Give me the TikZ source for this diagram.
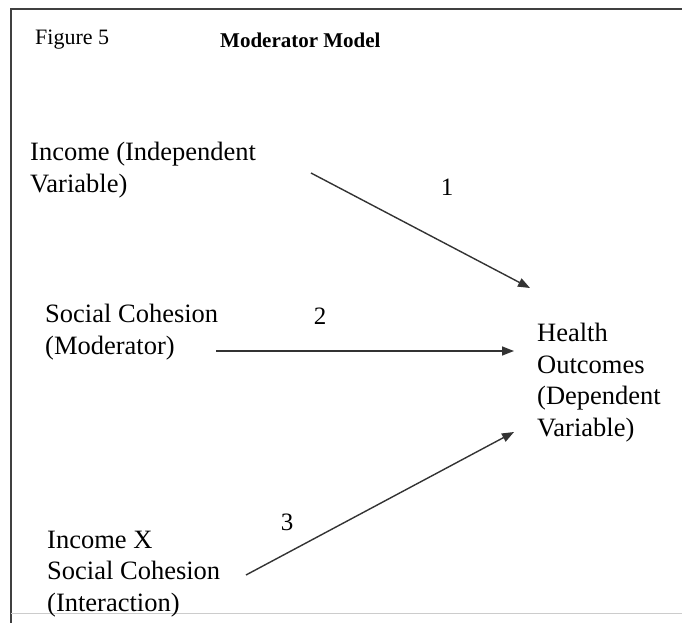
\documentclass[tikz,border=0pt]{standalone}
\usepackage{fontspec}
\setmainfont{Liberation Serif}
\usepackage{tikz}
\usetikzlibrary{arrows.meta}

\begin{document}
\begin{tikzpicture}[x=1pt,y=-1pt,>={Triangle[length=12pt,width=9pt]},
  txt/.style={anchor=base west,align=left,inner sep=0pt,
    font=\fontsize{26.5}{31.5}\selectfont},
  num/.style={inner sep=0pt,font=\fontsize{25}{28}\selectfont},
  link/.style={->,line width=1.4pt,draw=black!80}]
\useasboundingbox (0,0) rectangle (682,623);
% frame
\draw[line width=2pt,black!75] (11,623) -- (11,9) -- (682,9);
\draw[line width=1pt,black!20] (11,613) -- (682,613);
% title line
\node[anchor=base west,inner sep=0pt,font=\fontsize{22}{24}\selectfont] (fig) at (35,45) {Figure 5};
\node[anchor=base west,inner sep=0pt,font=\fontsize{21}{24}\selectfont\bfseries] (title) at (220,48) {Moderator Model};
% variables (base = last line)
\node[txt] (income) at (30,192) {Income (Independent\\Variable)};
\node[txt] (moder) at (45,354) {Social Cohesion\\(Moderator)};
\node[txt] (inter) at (47,611) {Income X\\Social Cohesion\\(Interaction)};
\node[txt] (health) at (537,436) {Health\\Outcomes\\(Dependent\\Variable)};
% arrow ends
\coordinate (s1) at (311,173);
\coordinate (e1) at (530,288);
\coordinate (s2) at (216,351);
\coordinate (e2) at (514,351);
\coordinate (s3) at (246,575);
\coordinate (e3) at (514,432);
\draw[link] (s1) -- (e1);
\draw[link] (s2) -- (e2);
\draw[link] (s3) -- (e3);
\node[num] (n1) at (447,187) {1};
\node[num] (n2) at (320,316) {2};
\node[num] (n3) at (287,522) {3};
\end{tikzpicture}
\end{document}
